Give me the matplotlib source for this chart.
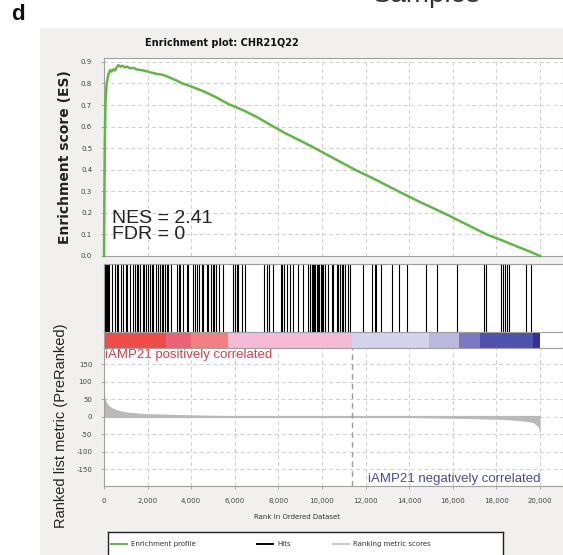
import matplotlib
matplotlib.use("Agg")
import matplotlib.pyplot as plt
from matplotlib.patches import Rectangle
from matplotlib.ticker import FuncFormatter

plt.rcParams["axes.unicode_minus"] = False
W, H = 563, 555

# --- data ---
es_rank = [0, 20, 40, 70, 120, 200, 280, 350, 420, 500, 580, 660, 760, 850, 950, 1050,
           1200, 1350, 1500, 1700, 1900, 2100, 2400, 2700, 3000, 3300, 3600, 4100, 4600,
           5100, 5700, 6400, 7000, 7600, 8300, 9000, 9526, 10500, 11513, 12500, 13500,
           14500, 15565, 16500, 17554, 18200, 19000, 19600, 20000]
es_value = [0.0, 0.30, 0.55, 0.72, 0.80, 0.84, 0.862, 0.855, 0.865, 0.86, 0.875, 0.885,
            0.878, 0.882, 0.875, 0.878, 0.87, 0.872, 0.865, 0.862, 0.858, 0.852, 0.845,
            0.84, 0.828, 0.815, 0.80, 0.782, 0.762, 0.738, 0.705, 0.675, 0.645, 0.61,
            0.57, 0.535, 0.508, 0.455, 0.40, 0.352, 0.30, 0.25, 0.20, 0.153, 0.10, 0.075,
            0.042, 0.018, 0.0]

hits = [5, 40, 80, 120, 160, 200, 240, 352, 510, 580, 650, 770, 850, 1010, 1070, 1193,
        1350, 1420, 1500, 1560, 1650, 1780, 1850, 1920, 2000, 2100, 2220, 2260, 2390, 2490,
        2570, 2650, 2720, 2800, 2880, 2950, 3058, 3340, 3420, 3490, 3639, 3800, 3850, 4070,
        4170, 4250, 4360, 4480, 4560, 4710, 4790, 4910, 5010, 5050, 5140, 5290, 5473, 5900,
        5990, 6080, 6160, 6314, 6468, 7350, 7460, 7582, 7766, 8100, 8180, 8250, 8380, 8530,
        8685, 8914, 9113, 9380, 9450, 9520, 9580, 9640, 9700, 9760, 9820, 9880, 9940, 10000,
        10060, 10120, 10291, 10444, 10520, 10680, 10750, 10820, 10900, 10980, 11050, 11208,
        11284, 11895, 12277, 12431, 12477, 12706, 13196, 13547, 13883, 14770, 15289, 16177,
        17431, 17508, 18210, 18300, 18400, 18500, 18590, 19343, 19587]

metric_rank = [0, 30, 80, 150, 250, 428, 700, 1040, 1500, 1957, 2600, 3180, 4500, 6238,
               8000, 10000, 11376, 13000, 15000, 16941, 18470, 19234, 19693, 19922, 19980,
               20000]
metric_value = [80, 60, 45, 38, 30, 24, 18, 14, 11, 9, 8, 7, 5, 3, 2, 1, 0, -1, -3, -5,
                -8, -12, -16, -29, -43, -47]

band_start = [0, 2844, 3991, 5688, 11376, 14908, 16284, 17248, 19679]
band_end = [2844, 3991, 5688, 11376, 14908, 16284, 17248, 19679, 20000]
band_color = ["#ef4c4c", "#ee6275", "#f38080", "#f5bad6", "#d5d3ec", "#bcb7dc",
              "#7978c0", "#5050ad", "#332f96"]

zero_cross = 11376
es_ticks = [0.0, 0.1, 0.2, 0.3, 0.4, 0.5, 0.6, 0.7, 0.8, 0.9]
metric_ticks = [-150, -100, -50, 0, 50, 100, 150]
rank_ticks = list(range(0, 20001, 2000))

GREEN = "#63b548"
GRID = dict(color="#cfcfcf", linestyle=(0, (4, 3)), linewidth=0.7)
XMAX = 21055


def fx(px):
    return px / W


def fy(py):
    return 1 - py / H


def box(top, bottom, left=104, right=563):
    return [fx(left), fy(bottom), fx(right) - fx(left), fy(top) - fy(bottom)]


fig = plt.figure(figsize=(W / 100, H / 100), dpi=100)
fig.patch.set_facecolor("white")
fig.patches.append(Rectangle((fx(40), 0), 1, fy(28), transform=fig.transFigure,
                             facecolor="#f2f0ef", edgecolor="none", zorder=-5))

fig.text(fx(11), fy(15), "d", fontsize=16, fontweight="bold", ha="left", va="center",
         family="Liberation Sans", color="#111111")
fig.text(fx(373), fy(1.5), "Samples", fontsize=20, ha="left", va="baseline",
         family="Liberation Sans", color="#333333")
fig.text(fx(145), fy(42.5), "Enrichment plot: CHR21Q22", fontsize=7, fontweight="bold",
         ha="left", va="center", color="#111111")


def style(ax):
    ax.set_facecolor("white")
    for s in ax.spines.values():
        s.set_color("#a0a0a0")
        s.set_linewidth(0.8)
    ax.tick_params(labelsize=5, colors="#a0a0a0", labelcolor="#444444", length=2.5,
                   width=0.6, pad=6)
    ax.set_xlim(0, XMAX)


# --- enrichment score ---
ax1 = fig.add_axes(box(58, 256))
style(ax1)
ax1.set_ylim(0, 0.918)
ax1.set_yticks(es_ticks)
ax1.yaxis.set_major_formatter(FuncFormatter(lambda v, p: f"{v:.1f}"))
ax1.set_xticks(rank_ticks)
ax1.tick_params(axis="x", length=0, labelbottom=False)
ax1.grid(True, **GRID)
ax1.set_axisbelow(True)
ax1.plot(es_rank, es_value, color=GREEN, lw=1.8, clip_on=False, zorder=3)
ax1.set_ylabel("Enrichment score (ES)", fontsize=10, fontweight="bold", color="#222222")
ax1.yaxis.set_label_coords(-0.07, 0.5)
ax1.text(0.018, 0.15, "NES = 2.41\nFDR = 0", transform=ax1.transAxes, fontsize=14,
         family="Liberation Sans", ha="left", va="center", linespacing=0.95,
         color="#222222")

# --- hits ---
ax2 = fig.add_axes(box(264, 332))
style(ax2)
ax2.set_xticks([])
ax2.set_yticks([])
ax2.set_ylim(0, 1)
ax2.vlines(hits, 0, 1, color="black", lw=0.8)

# --- colour band ---
ax3 = fig.add_axes(box(332, 348))
style(ax3)
ax3.set_xticks([])
ax3.set_yticks([])
ax3.set_ylim(0, 1)
ax3.barh(0, [e - s for s, e in zip(band_start, band_end)], left=band_start, height=1,
         align="edge", color=band_color, edgecolor="none")

# --- ranked metric ---
ax4 = fig.add_axes(box(348, 486))
style(ax4)
ax4.set_ylim(-197, 196)
ax4.set_yticks(metric_ticks)
ax4.set_xticks(rank_ticks)
ax4.xaxis.set_major_formatter(FuncFormatter(lambda v, p: f"{int(v):,}"))
ax4.grid(True, **GRID)
ax4.set_axisbelow(True)
ax4.fill_between(metric_rank, 0, metric_value, color="#b9b9b9", lw=0, zorder=2)
ax4.plot([metric_rank[0], metric_rank[-1]], [0, 0], color="#b9b9b9", lw=1.6, zorder=2)
ax4.axvline(zero_cross, color="#9a9a9a", linestyle=(0, (4, 3)), lw=1.0, zorder=2)
ax4.set_ylabel("Ranked list metric (PreRanked)", fontsize=10.5, family="Liberation Sans",
               color="#222222")
ax4.yaxis.set_label_coords(-0.078, 0.44)
ax4.text(0.003, 0.995, "iAMP21 positively correlated", transform=ax4.transAxes,
         fontsize=9.5, family="Liberation Sans", color="#dc3e44", ha="left", va="top")
ax4.text(20000, -195, "iAMP21 negatively correlated", fontsize=9.5,
         family="Liberation Sans", color="#4a48a4", ha="right", va="bottom")

fig.text(fx(297), fy(517), "Rank in Ordered Dataset", fontsize=5, ha="center",
         va="center", color="#333333")

# --- legend box ---
axl = fig.add_axes([fx(108), 0, fx(503) - fx(108), fy(532)])
axl.set_xlim(108, 503)
axl.set_ylim(0, 1)
axl.set_xticks([])
axl.set_yticks([])
for s in axl.spines.values():
    s.set_color("#222222")
    s.set_linewidth(1.0)
axl.spines["bottom"].set_visible(False)
yl = 1 - 12 / (555 - 532)
for x0, col, lab in [(111, GREEN, "Enrichment profile"), (257, "black", "Hits"),
                     (333, "#c8c8c8", "Ranking metric scores")]:
    axl.plot([x0, x0 + 16], [yl, yl], color=col, lw=1.4)
    axl.text(x0 + 20, yl, lab, fontsize=5, va="center", ha="left", color="#333333")

fig.savefig("out.png", dpi=100, facecolor="white")
